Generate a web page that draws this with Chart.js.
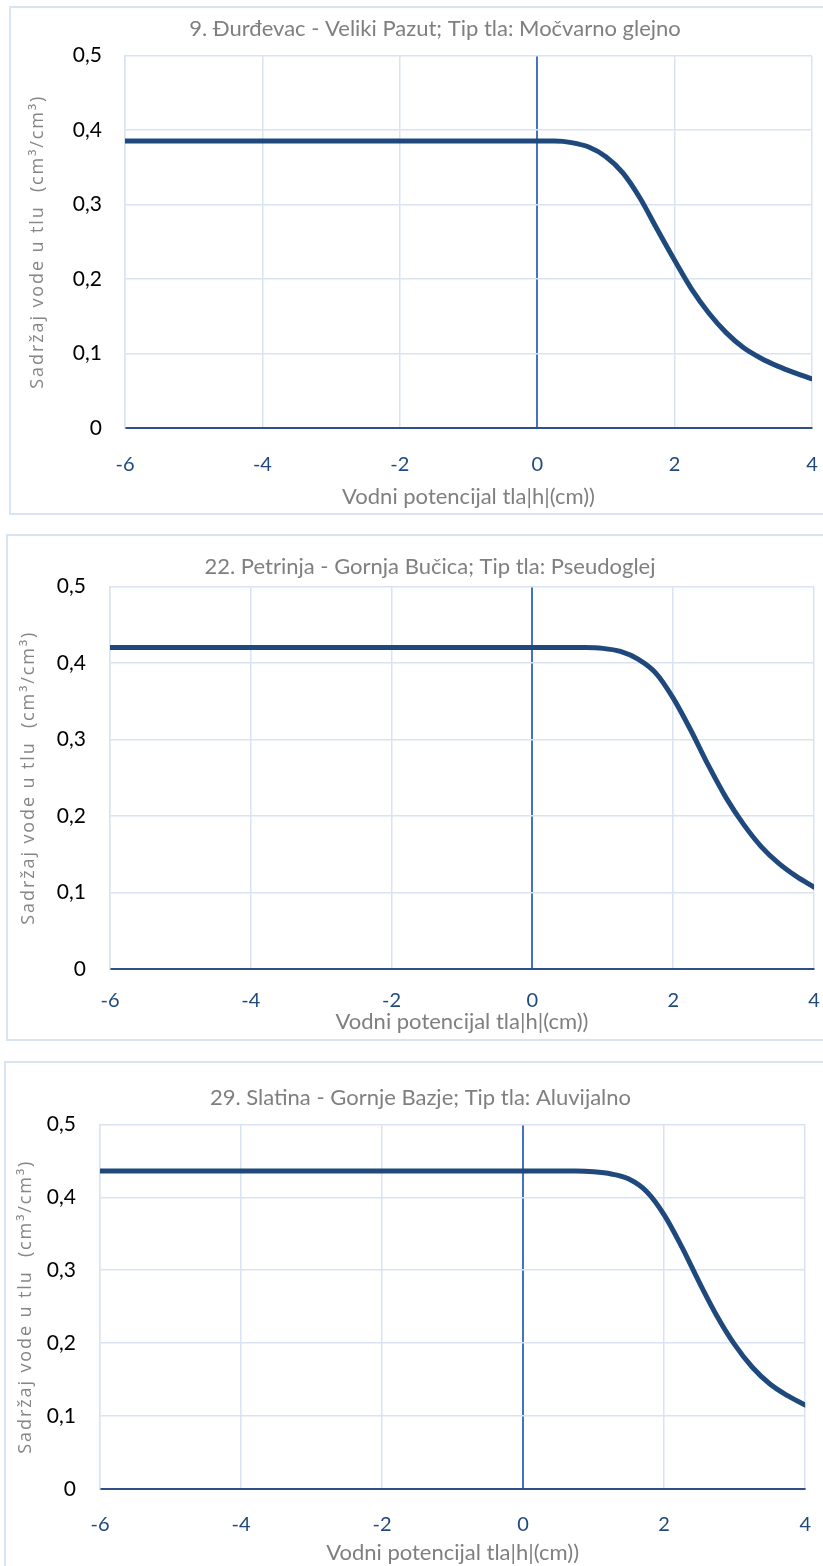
<!DOCTYPE html>
<html>
<head>
<meta charset="utf-8">
<script src="https://cdn.jsdelivr.net/npm/chart.js@4.4.1/dist/chart.umd.min.js"></script>
<style>
html, body { margin: 0; padding: 0; background: #fff; overflow: hidden; width: 823px; height: 1566px; }
.box { position: absolute; border: 2px solid #D9E4F2; box-sizing: border-box; background: #fff; }
.box canvas { position: absolute; left: 0; top: 0; }
</style>
</head>
<body>
<div class="box" style="left:9px;top:6px;width:852px;height:509px"><canvas id="chart1" width="848" height="505"></canvas></div>
<div class="box" style="left:6px;top:534px;width:848px;height:507px"><canvas id="chart2" width="844" height="503"></canvas></div>
<div class="box" style="left:4px;top:1061px;width:833px;height:530px"><canvas id="chart3" width="829" height="503"></canvas></div>
<script>
// Vodni potencijal (x) i sadržaj vode (y), očitano s grafova
const h1 = [-6, 0, 0.25, 0.5, 0.75, 1.0, 1.25, 1.5, 1.75, 2.0, 2.25, 2.5, 2.75, 3.0, 3.25, 3.5, 3.75, 4.0];
const theta1 = [0.385, 0.385, 0.385, 0.383, 0.377, 0.364, 0.342, 0.308, 0.266, 0.225, 0.186, 0.154, 0.128, 0.108, 0.094, 0.083, 0.074, 0.066];

const h2 = [-6, 0, 0.5, 0.75, 1.0, 1.25, 1.5, 1.75, 2.0, 2.25, 2.5, 2.75, 3.0, 3.25, 3.5, 3.75, 4.0];
const theta2 = [0.42, 0.42, 0.42, 0.42, 0.419, 0.415, 0.405, 0.387, 0.354, 0.312, 0.266, 0.224, 0.189, 0.160, 0.138, 0.121, 0.107];

const h3 = [-6, 0, 0.5, 0.75, 1.0, 1.25, 1.5, 1.75, 2.0, 2.25, 2.5, 2.75, 3.0, 3.25, 3.5, 3.75, 4.0];
const theta3 = [0.436, 0.436, 0.436, 0.436, 0.435, 0.432, 0.425, 0.408, 0.376, 0.332, 0.283, 0.237, 0.198, 0.167, 0.144, 0.128, 0.115];

const titles = [
    '9. Đurđevac - Veliki Pazut; Tip tla: Močvarno glejno',
    '22. Petrinja - Gornja Bučica; Tip tla: Pseudoglej',
    '29. Slatina - Gornje Bazje; Tip tla: Aluvijalno'
];
const xTitle = 'Vodni potencijal tla|h|(cm))';
const yTitle = 'Sadržaj vode u tlu  (cm³/cm³)';

const xMin = -6, xMax = 4, xStep = 2;
const yMin = 0, yMax = 0.5, yStep = 0.1;

const lineColor = '#1F497D';
const gridColor = '#D9E3F2';

// raspored za svaki graf (pikseli unutar platna)
const layouts = [
    { left: 114, right: 47, bottom: 85, titleTop: 8, titleBottom: 13, yTitleX: 27, yTickPad: 23, xTickPad: 25, xTitlePad: 3 },
    { left: 102, right: 38, bottom: 70, titleTop: 18, titleBottom: 6, yTitleX: 21, yTickPad: 24, xTickPad: 20, xTitlePad: 4 },
    { left: 94, right: 20, bottom: 77, titleTop: 22, titleBottom: 13, yTitleX: 20, yTickPad: 24, xTickPad: 24, xTitlePad: 0 }
];

const fmt = (v) => String(Math.round(v * 10) / 10).replace('.', ',');

// naslov osi y s razmakom između slova
const yTitlePlugin = {
    id: 'yTitle',
    afterDraw(chart, args, opts) {
        const ctx = chart.ctx;
        const area = chart.chartArea;
        ctx.save();
        ctx.translate(opts.x, (area.top + area.bottom) / 2);
        ctx.rotate(-Math.PI / 2);
        ctx.font = '18px "Open Sans"';
        ctx.letterSpacing = '1.9px';
        ctx.fillStyle = '#868686';
        ctx.textAlign = 'center';
        ctx.textBaseline = 'middle';
        ctx.fillText(yTitle, 0, 0);
        ctx.restore();
    }
};

function makeChart(id, title, xs, ys, lay) {
    const points = xs.map((x, i) => ({ x: x, y: ys[i] }));
    return new Chart(document.getElementById(id), {
        type: 'line',
        data: {
            datasets: [{
                data: points,
                borderColor: lineColor,
                borderWidth: 5,
                borderCapStyle: 'round',
                pointRadius: 0,
                cubicInterpolationMode: 'monotone',
                fill: false
            }]
        },
        plugins: [yTitlePlugin],
        options: {
            responsive: false,
            animation: false,
            layout: { padding: 0 },
            plugins: {
                legend: { display: false },
                tooltip: { enabled: false },
                yTitle: { x: lay.yTitleX },
                title: {
                    display: true,
                    text: title,
                    color: '#7F7F7F',
                    font: { family: 'Lato', size: 22, weight: 'normal' },
                    padding: { top: lay.titleTop, bottom: lay.titleBottom }
                }
            },
            scales: {
                x: {
                    type: 'linear',
                    min: xMin,
                    max: xMax,
                    afterFit: (s) => { s.height = lay.bottom; },
                    ticks: {
                        stepSize: xStep,
                        color: '#1F497D',
                        font: { family: 'Lato', size: 20 },
                        padding: lay.xTickPad,
                        maxRotation: 0
                    },
                    grid: {
                        drawTicks: false,
                        color: (c) => (c.tick && c.tick.value === 0 ? '#4472C4' : gridColor),
                        lineWidth: (c) => (c.tick && c.tick.value === 0 ? 2 : 1.5)
                    },
                    border: { color: '#2F4F86', width: 2 },
                    title: {
                        display: true,
                        text: xTitle,
                        color: '#7F7F7F',
                        font: { family: 'Lato', size: 22 },
                        padding: { top: 0, bottom: lay.xTitlePad }
                    }
                },
                y: {
                    min: yMin,
                    max: yMax,
                    afterFit: (s) => { s.width = lay.left; },
                    ticks: {
                        stepSize: yStep,
                        color: '#000000',
                        font: { family: 'Lato', size: 21 },
                        padding: lay.yTickPad,
                        callback: (v) => fmt(v)
                    },
                    grid: {
                        drawTicks: false,
                        color: (c) => (c.tick && c.tick.value === 0 ? '#2F4F86' : gridColor),
                        lineWidth: (c) => (c.tick && c.tick.value === 0 ? 2 : 1.5)
                    },
                    border: { color: gridColor, width: 1.5 },
                    title: { display: false }
                },
                // prazna os desno, samo da naslov ostane centriran na cijelom okviru
                pad: {
                    axis: 'y',
                    position: 'right',
                    min: 0,
                    max: 1,
                    afterFit: (s) => { s.width = lay.right; },
                    ticks: { display: false },
                    grid: { display: false },
                    border: { display: false }
                }
            }
        }
    });
}

makeChart('chart1', titles[0], h1, theta1, layouts[0]);
makeChart('chart2', titles[1], h2, theta2, layouts[1]);
makeChart('chart3', titles[2], h3, theta3, layouts[2]);
</script>
</body>
</html>
